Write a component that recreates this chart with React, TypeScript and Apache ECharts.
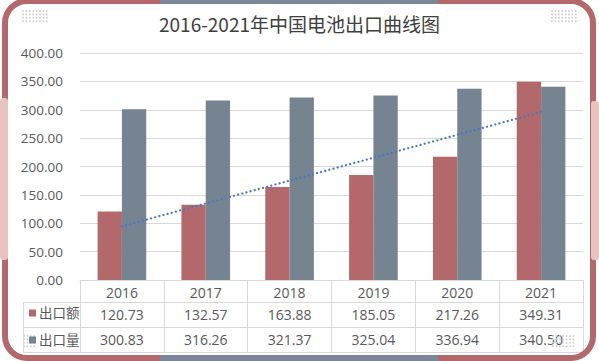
import React, { useEffect, useRef } from "react";
import * as echarts from "echarts";

const titleText = "2016-2021年中国电池出口曲线图";
const categories = ["2016", "2017", "2018", "2019", "2020", "2021"];
const exportValue = [120.73, 132.57, 163.88, 185.05, 217.26, 349.31];
const exportVolume = [300.83, 316.26, 321.37, 325.04, 336.94, 340.5];
// linear trendline of 出口额, endpoints
const trendValue = [94.5, null, null, null, null, 296.1];
const seriesNames = ["出口额", "出口量"];

const RED = "#b3686c";
const GRAY = "#768391";
const FRAME_GRAY = "#7a8798";
const PINK = "#e8c3bf";
const TEXT = "#595959";
const LINE = "#d9d9d9";
const FONT = "'Open Sans', 'Noto Sans CJK SC', sans-serif";

function dotGrid(x0: number, y0: number, cols: number, rows: number) {
  const out: any[] = [];
  for (let r = 0; r < rows; r++) {
    for (let c = 0; c < cols; c++) {
      out.push({
        type: "circle",
        shape: { cx: x0 + c * 3.4, cy: y0 + r * 3.4, r: 0.9 },
        style: { fill: "#cfcfcf" },
        z: 1,
      });
    }
  }
  return out;
}

export default function App() {
  const ref = useRef<HTMLDivElement>(null);
  useEffect(() => {
    if (!ref.current) return;
    const chart = echarts.init(ref.current, null, { renderer: "svg" });
    const graphics: any[] = [
      // frame
      {
        type: "rect",
        shape: { x: 5, y: 1, width: 588, height: 357, r: 22 },
        style: { fill: "none", stroke: RED, lineWidth: 6 },
        z: 10,
        silent: true,
      },
      { type: "rect", shape: { x: 160, y: 0, width: 278, height: 4 }, style: { fill: FRAME_GRAY }, z: 11 },
      { type: "rect", shape: { x: 160, y: 355, width: 278, height: 6 }, style: { fill: FRAME_GRAY }, z: 11 },
      { type: "rect", shape: { x: 0, y: 98, width: 8, height: 162, r: 3 }, style: { fill: PINK }, z: 11 },
      { type: "rect", shape: { x: 591, y: 101, width: 8, height: 159, r: 3 }, style: { fill: PINK }, z: 11 },
      // table lines
      { type: "line", shape: { x1: 23, y1: 302.5, x2: 583, y2: 302.5 }, style: { stroke: LINE, lineWidth: 1 }, z: 2 },
      { type: "line", shape: { x1: 23, y1: 327.5, x2: 583, y2: 327.5 }, style: { stroke: LINE, lineWidth: 1 }, z: 2 },
      { type: "line", shape: { x1: 23, y1: 352.5, x2: 583, y2: 352.5 }, style: { stroke: LINE, lineWidth: 1 }, z: 2 },
      { type: "line", shape: { x1: 23.5, y1: 302, x2: 23.5, y2: 353 }, style: { stroke: LINE, lineWidth: 1 }, z: 2 },
      ...dotGrid(23, 11, 8, 4),
      ...dotGrid(552, 11, 8, 4),
      ...dotGrid(553, 336, 7, 4),
      ...dotGrid(24, 336, 4, 4),
    ];

    chart.setOption({
      animation: false,
      backgroundColor: "#ffffff",
      title: {
        text: titleText,
        left: "center",
        top: 9,
        textStyle: {
          fontFamily: "'Noto Sans CJK SC', sans-serif",
          fontSize: 19,
          fontWeight: "normal",
          color: "#404040",
        },
      },
      legend: {
        data: seriesNames,
        orient: "vertical",
        left: 29,
        top: 306,
        padding: 0,
        itemWidth: 7,
        itemHeight: 7,
        itemGap: 13,
        icon: "rect",
        textStyle: { fontFamily: FONT, fontSize: 13.5, color: TEXT, lineHeight: 14, padding: [0, 0, 0, -2] },
      },
      grid: { left: 80, right: 16, top: 53, bottom: 81, containLabel: false },
      xAxis: [
        {
          type: "category",
          data: categories,
          position: "bottom",
          axisLine: { show: true, lineStyle: { color: LINE } },
          axisTick: { show: true, interval: 0, length: 72, lineStyle: { color: LINE } },
          axisLabel: { interval: 0, margin: 5, fontSize: 14, color: TEXT, fontFamily: FONT },
        },
        {
          type: "category",
          data: categories,
          position: "bottom",
          offset: 22,
          axisLine: { show: false },
          axisTick: { show: false },
          axisLabel: {
            interval: 0,
            margin: 5,
            fontSize: 14,
            color: TEXT,
            fontFamily: FONT,
            formatter: (_v: string, i: number) => exportValue[i].toFixed(2),
          },
        },
        {
          type: "category",
          data: categories,
          position: "bottom",
          offset: 47,
          axisLine: { show: false },
          axisTick: { show: false },
          axisLabel: {
            interval: 0,
            margin: 5,
            fontSize: 14,
            color: TEXT,
            fontFamily: FONT,
            formatter: (_v: string, i: number) => exportVolume[i].toFixed(2),
          },
        },
      ],
      yAxis: {
        type: "value",
        min: 0,
        max: 400,
        interval: 50,
        axisLine: { show: false },
        axisTick: { show: false },
        splitLine: { lineStyle: { color: LINE } },
        axisLabel: {
          margin: 17,
          fontSize: 13.5,
          color: TEXT,
          fontFamily: FONT,
          formatter: (v: number) => v.toFixed(2),
        },
      },
      series: [
        {
          name: seriesNames[0],
          type: "bar",
          data: exportValue,
          barWidth: "29%",
          barGap: "0%",
          itemStyle: { color: RED },
          z: 2,
        },
        {
          name: seriesNames[1],
          type: "bar",
          data: exportVolume,
          barWidth: "29%",
          barGap: "0%",
          itemStyle: { color: GRAY },
          z: 2,
        },
        {
          name: "趋势线",
          type: "line",
          data: trendValue,
          connectNulls: true,
          symbol: "none",
          lineStyle: { color: "#4a78c8", width: 2.2, type: [0.1, 4.2], cap: "round" },
          z: 3,
        },
      ],
      graphic: graphics,
    });
    return () => chart.dispose();
  }, []);
  return (
    <div
      ref={ref}
      style={{ position: "fixed", left: 0, top: 0, width: 599, height: 361 }}
    />
  );
}
